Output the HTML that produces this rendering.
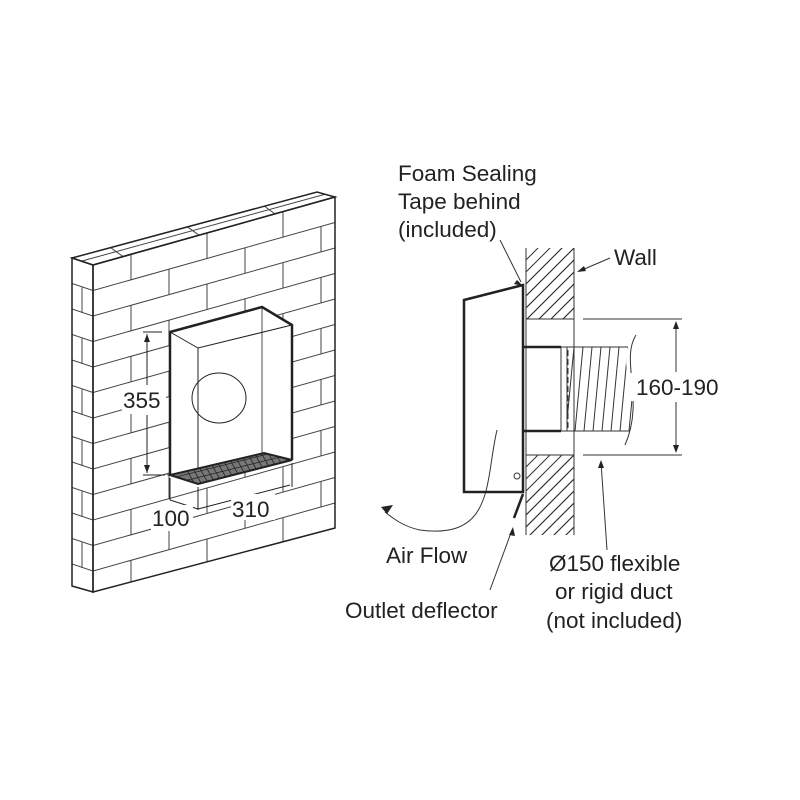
<!DOCTYPE html>
<html><head><meta charset="utf-8"><style>
html,body{margin:0;padding:0;background:#fff;}
svg{display:block;}
text{font-family:"Liberation Sans",sans-serif;font-size:22.5px;fill:#222;}
</style></head><body>
<svg id="s" width="800" height="800" viewBox="0 0 800 800" xmlns="http://www.w3.org/2000/svg">
<defs>
<clipPath id="front"><polygon points="93,265 335,197 335,528 93,592"/></clipPath>
<clipPath id="side"><polygon points="72,258 93,265 93,592 72,586"/></clipPath>
<clipPath id="top"><polygon points="72,258 317,192 335,197 93,265"/></clipPath>
<clipPath id="wallu"><rect x="526" y="248" width="48" height="71"/></clipPath>
<clipPath id="walll"><rect x="526" y="455" width="48" height="80"/></clipPath>
<clipPath id="duct"><path d="M567,347 L628,347 C620,370 640,400 630,431 L567,431 Z"/></clipPath>
<clipPath id="grille"><polygon points="170,475 198,484 292,460 264,453"/></clipPath>
</defs>
<g id="bricks" stroke="#444" stroke-width="1" fill="none"></g>
<g stroke="#222" stroke-width="1.5" fill="none">
<polygon points="93,265 335,197 335,528 93,592"/>
<polygon points="72,258 93,265 93,592 72,586"/>
<polygon points="72,258 317,192 335,197 93,265"/>
</g>
<polygon points="170,332 262,307 292,325 292,460 198,484 170,475" fill="#fff"/>
<g stroke="#222" fill="none">
<polyline points="170,475 170,332 262,307 292,325 292,460" stroke-width="2.5"/>
<polyline points="170,332 198,348 292,325" stroke-width="1"/>
<line x1="198" y1="348" x2="198" y2="484" stroke-width="1"/>
<line x1="262" y1="307" x2="262" y2="453" stroke-width="0.8"/>
<ellipse cx="219" cy="398" rx="27" ry="25" stroke-width="1"/>
<polygon points="170,475 198,484 292,460 264,453" fill="#777" stroke-width="2"/>
<g id="gr" clip-path="url(#grille)" stroke="#222" stroke-width="0.8"></g>
<line x1="143" y1="332" x2="162" y2="332" stroke-width="1"/>
<line x1="143" y1="475" x2="165" y2="475" stroke-width="1"/>
<line x1="147" y1="334" x2="147" y2="385" stroke-width="1"/>
<line x1="147" y1="415" x2="147" y2="473" stroke-width="1"/>
<line x1="170" y1="478" x2="170" y2="500" stroke-width="1"/>
<line x1="198" y1="487" x2="198" y2="510" stroke-width="1"/>
<line x1="292" y1="463" x2="292" y2="487" stroke-width="1"/>
<line x1="170" y1="500" x2="198" y2="509" stroke-width="1"/>
<line x1="198" y1="509" x2="290" y2="485" stroke-width="1"/>
</g>
<path d="M147,334 l-3,8 h6z M147,473 l-3,-8 h6z" fill="#222"/>
<rect x="122" y="388" width="44" height="26" fill="#fff"/>
<text x="123" y="408">355</text>
<rect x="151" y="505" width="42" height="26" fill="#fff"/>
<text x="152" y="526">100</text>
<rect x="231" y="494" width="44" height="26" fill="#fff"/>
<text x="232" y="517">310</text>

<g stroke="#333" stroke-width="1" fill="none">
<g clip-path="url(#wallu)" id="h1"></g>
<g clip-path="url(#walll)" id="h2"></g>
<line x1="526" y1="248" x2="526" y2="535"/>
<line x1="574" y1="248" x2="574" y2="535"/>
<line x1="526" y1="319" x2="574" y2="319"/>
<line x1="526" y1="455" x2="574" y2="455"/>
<line x1="583" y1="319" x2="682" y2="319"/>
<line x1="583" y1="455" x2="682" y2="455"/>
<line x1="676" y1="322" x2="676" y2="372"/>
<line x1="676" y1="402" x2="676" y2="452"/>
<g clip-path="url(#duct)" id="d1"></g>
<line x1="561" y1="347" x2="628" y2="347"/>
<line x1="561" y1="431" x2="630" y2="431"/>
<path d="M636,335 C620,360 645,400 625,445"/>
<rect x="561" y="347" width="6" height="84"/>
<line x1="568" y1="350" x2="568" y2="428" stroke-dasharray="6,3"/>
<circle cx="517" cy="476" r="3"/>
<path d="M497,430 C485,480 495,540 420,530 C405,527 395,520 385,512"/>
<line x1="490" y1="590" x2="512" y2="530"/>
<line x1="607" y1="550" x2="601" y2="462"/>
<line x1="500" y1="240" x2="521" y2="282"/>
<line x1="610" y1="258" x2="582" y2="270"/>
</g>
<path d="M676,321 l-3,8 h6z M676,453 l-3,-8 h6z M381,507 l12,-2 l-6,9z M513,527 l-4,8 l6,1z M601,460 l-3,8 l6,0z M523,286 l-6,-6 l-3,4z M577,272 l9,-1 l-2,-5z" fill="#222"/>
<g stroke="#222" fill="none" stroke-width="2.5">
<path d="M464,300 L523,285 L523,492 L464,492 Z"/>
<line x1="523" y1="347" x2="561" y2="347"/>
<line x1="523" y1="431" x2="561" y2="431"/>
<line x1="523" y1="494" x2="514" y2="518"/>
</g>
<rect x="629" y="373" width="94" height="28" fill="#fff"/>
<text x="636" y="395">160-190</text>
<text x="398" y="181">Foam Sealing</text>
<text x="398" y="209">Tape behind</text>
<text x="398" y="237">(included)</text>
<text x="614" y="265">Wall</text>
<text x="386" y="563">Air Flow</text>
<text x="345" y="618">Outlet deflector</text>
<text x="549" y="571">Ø150 flexible</text>
<text x="555" y="599">or rigid duct</text>
<text x="546" y="628">(not included)</text>
</svg>
<script>
var NS="http://www.w3.org/2000/svg";
function ln(g,x1,y1,x2,y2){var l=document.createElementNS(NS,"line");l.setAttribute("x1",x1);l.setAttribute("y1",y1);l.setAttribute("x2",x2);l.setAttribute("y2",y2);g.appendChild(l);}
var b=document.getElementById("bricks");
var s=-0.281,h=25.5;
var gf=document.createElementNS(NS,"g");gf.setAttribute("clip-path","url(#front)");b.appendChild(gf);
var gs=document.createElementNS(NS,"g");gs.setAttribute("clip-path","url(#side)");b.appendChild(gs);
var gt=document.createElementNS(NS,"g");gt.setAttribute("clip-path","url(#top)");b.appendChild(gt);
for(var k=0;k<14;k++){var y=265+k*h;
 ln(gf,93,y,335,y+s*242);
 ln(gs,72,y-7,93,y);
 var off=(k%2)?0:38;
 for(var x=93+off;x<335;x+=76){ln(gf,x,y+s*(x-93),x,y+h+s*(x-93));}
 if(k%2) ln(gs,82,y-3,82,y+h-3);
}
for(var x=93+30;x<335;x+=76){ln(gt,x,265+s*(x-93),x-18,258+s*(x-93)-6);}
ln(gt,82,261,326,194);
function hatch(id,y0){var g=document.getElementById(id);for(var t=-60;t<120;t+=12){ln(g,526,y0+t+48,574,y0+t);}}
hatch("h1",248);hatch("h1",296);hatch("h2",455);hatch("h2",515);
var d=document.getElementById("d1");
for(var x=570;x<640;x+=9){ln(d,x+4,347,x-4,431);}
var gr=document.getElementById("gr");
for(var x=170;x<300;x+=7){ln(gr,x,440,x+28,490);}
for(var t=0;t<5;t++){var yy=455+t*6;ln(gr,160,yy+20,300,yy-15);}
</script>
</body></html>
